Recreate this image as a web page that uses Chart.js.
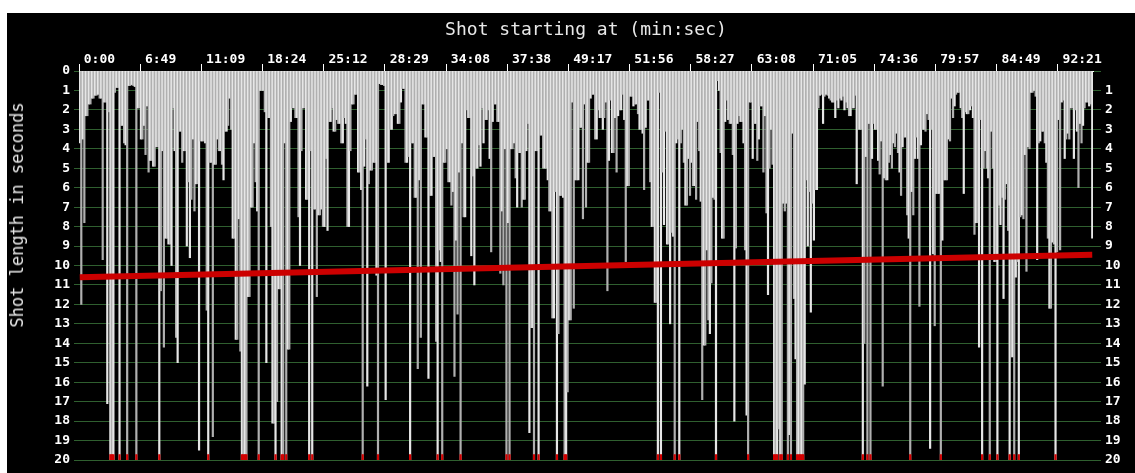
<!DOCTYPE html>
<html>
<head>
<meta charset="utf-8">
<title>Shot length in seconds</title>
<script src="https://cdn.jsdelivr.net/npm/chart.js@4.4.1/dist/chart.umd.min.js"></script>
<style>
  html, body { margin: 0; padding: 0; background: #fff; }
  #wrap { position: relative; width: 1135px; height: 473px; overflow: hidden; }
  #panel { position: absolute; left: 7px; top: 13px; width: 1128px; height: 460px; background: #000; }
  #chart { position: absolute; left: 0; top: 0; }
  #ytitle {
    position: absolute; left: 17px; top: 215px;
    transform: translate(-50%, -50%) rotate(-90deg);
    color: #e8e8e8; font: 17px "DejaVu Sans Mono", monospace; white-space: nowrap;
  }
</style>
</head>
<body>
<div id="wrap">
  <div id="panel"></div>
  <canvas id="chart" width="1135" height="473"></canvas>
  <div id="ytitle">Shot length in seconds</div>
</div>
<script>
/***** data *****/
// one top-axis label every 40 shots (start time of that shot)
var shotsPerTick = 40;
var tickLabels = ["0:00", "6:49", "11:09", "18:24", "25:12", "28:29", "34:08", "37:38", "49:17",
                  "51:56", "58:27", "63:08", "71:05", "74:36", "79:57", "84:49", "92:21"];

// shot lengths in seconds; 21 = runs past the 20 s scale (red mark)
var shotLengths = [
  3.7, 12.0, 3.5, 7.8, 2.3, 2.3, 1.7, 1.7, 1.4, 1.4,
  1.25, 1.25, 1.2, 1.4, 1.4, 9.7, 1.6, 1.6, 17.1, 2.1,
  21, 21, 21, 1.1, 0.85, 0.85, 21, 2.8, 2.8, 3.7,
  3.8, 21, 0.75, 0.75, 0.7, 0.75, 0.8, 21, 1.9, 1.9,
  3.5, 3.5, 2.8, 4.3, 1.8, 5.2, 4.6, 4.6, 4.9, 4.9,
  3.9, 3.9, 21, 11.3, 4.1, 14.2, 8.6, 8.6, 8.9, 8.9,
  10.0, 1.9, 4.1, 13.7, 15.0, 3.1, 3.1, 4.7, 4.1, 4.1,
  9.0, 5.7, 9.6, 6.6, 3.5, 7.2, 5.8, 5.8, 19.5, 3.6,
  3.6, 3.6, 3.7, 12.3, 21, 4.7, 4.7, 18.8, 4.8, 4.8,
  3.5, 4.1, 4.1, 4.8, 5.6, 3.1, 3.1, 2.8, 1.4, 3.0,
  8.6, 8.6, 13.8, 13.8, 7.6, 14.4, 21, 21, 21, 21,
  // 110
  11.6, 11.6, 7.0, 7.0, 3.7, 5.7, 7.2, 21, 1.0, 1.0,
  1.0, 2.1, 15.0, 2.4, 2.4, 8.0, 18.1, 18.1, 21, 17.0,
  11.2, 11.2, 21, 21, 3.7, 21, 14.3, 14.3, 2.6, 1.9,
  1.9, 2.4, 2.4, 7.5, 10.0, 4.1, 1.9, 1.9, 6.6, 6.6,
  21, 4.1, 21, 7.1, 7.1, 11.6, 7.4, 7.4, 7.1, 8.0,
  8.0, 4.5, 8.2, 2.6, 2.6, 1.9, 3.1, 3.1, 2.5, 2.7,
  2.7, 3.7, 3.7, 2.4, 2.7, 8.0, 8.0, 4.1, 1.7, 1.7,
  1.2, 1.2, 5.2, 5.2, 6.1, 21, 4.9, 3.5, 16.2, 5.8,
  5.1, 5.1, 4.7, 4.7, 10.5, 21, 0.65, 0.7, 0.7, 0.75,
  16.9, 4.7, 4.7, 3.0, 3.0, 2.3, 2.2, 2.2, 2.7, 2.7,
  1.6, 0.9, 0.9, 4.7, 4.7, 4.4, 21, 3.7, 3.7, 6.5,
  6.5, 15.3, 5.6,
  // 223
  13.7, 1.7, 1.7, 3.4, 3.4, 15.8, 6.4,
  6.4, 4.4, 4.4, 13.9, 21, 9.2, 9.8, 21, 4.7, 4.7,
  4.0, 5.7, 5.7, 6.9, 6.2, 15.7, 8.7, 12.5, 5.2, 21,
  3.7, 7.5, 7.5, 2.0, 2.4, 2.4, 9.5, 5.4, 11.0, 5.0,
  5.0, 3.8, 4.9, 1.9, 3.7, 2.5, 2.5, 2.0, 4.5, 9.3,
  2.6, 1.7, 1.7, 2.6, 2.6, 10.4, 7.2, 11.0, 4.0, 21,
  7.8, 21, 4.0, 4.0, 3.7, 5.5, 7.0, 4.2, 4.2, 7.0,
  6.6, 6.6, 4.1, 2.7, 18.6, 13.2, 13.2, 21, 4.1, 4.1,
  21, 3.3, 3.3, 5.0, 5.0, 5.0, 5.6, 7.2, 7.2, 12.7,
  12.7, 6.2, 21, 13.5, 6.4, 6.4, 6.5, 21, 21, 16.5,
  12.8, 12.8, 1.6, 12.2, 5.6, 5.6, 5.6, 2.9, 2.9, 7.6,
  1.7, 7.0, 4.7, 4.7, 1.4,
  // 335
  1.2, 1.2, 3.5, 3.5, 2.0,
  2.4, 2.4, 3.0, 2.4, 1.6, 11.3, 4.6, 1.5, 4.2, 4.2,
  2.4, 5.2, 2.3, 2.0, 2.0, 1.2, 2.5, 9.8, 5.9, 5.9,
  1.3, 1.3, 1.8, 1.7, 1.7, 2.2, 3.0, 3.0, 3.2, 6.1,
  2.9, 1.5, 1.5, 5.7, 8.0, 8.0, 11.9, 11.9, 21, 1.1,
  21, 5.2, 7.9, 3.1, 8.9, 8.9, 13.0, 8.3, 8.5, 21,
  3.7, 3.5, 21, 3.7, 3.0, 4.7, 6.9, 6.9, 4.5, 6.4,
  4.7, 5.9, 5.9, 6.6, 2.6, 4.1, 6.7, 16.9, 14.1, 14.1,
  9.2, 12.8, 13.5, 10.9, 6.5, 6.6, 21, 0.5, 1.0, 4.2,
  8.6, 8.6, 2.6, 1.5, 2.5, 2.7, 2.7, 4.3, 18.0, 9.1,
  2.7, 2.3, 2.6, 2.6, 3.7, 9.2, 17.7, 21, 1.6, 1.6,
  4.5, 2.7, 2.7, 4.6, 3.5, 1.8, 1.8, 5.2,
  // 448
  2.3, 7.3,
  11.5, 5.0, 3.0, 4.8, 21, 21, 21, 18.4, 21, 21,
  6.8, 7.2, 6.8, 21, 18.7, 21, 3.2, 11.7, 14.8, 21,
  21, 21, 21, 21, 16.1, 5.6, 9.0, 6.2, 12.4, 6.8,
  8.7, 6.1, 6.1, 1.9, 1.25, 1.2, 2.7, 1.3, 1.2, 1.25,
  1.4, 1.5, 1.6, 1.6, 2.4, 1.5, 1.9, 1.4, 1.5, 1.3,
  2.0, 1.6, 1.9, 2.3, 2.3, 1.9, 1.9, 1.25, 5.8, 3.0,
  3.0, 3.0, 21, 14.0, 4.4, 21, 2.7, 21, 4.5, 2.7,
  3.0, 3.0, 4.6, 5.3, 3.6, 16.2, 5.5, 5.6, 5.6, 4.7,
  4.3, 5.0, 3.7, 3.9, 3.2, 4.2, 5.2, 6.4, 3.9, 3.4,
  3.4, 7.4, 8.6, 21, 6.2, 7.4, 4.5, 3.4, 4.5, 12.1,
  3.8, 3.0, 3.0, 3.1, 2.2, 2.5, 19.4, 3.0, 9.4, 13.1,
  // 560
  6.3, 6.3, 6.3, 21, 8.7, 5.6, 5.6, 5.6, 3.5, 3.6,
  1.4, 2.4, 1.8, 1.2, 1.1, 1.1, 1.9, 2.4, 6.3, 2.1,
  2.2, 2.2, 2.0, 1.8, 2.4, 8.4, 7.8, 7.8, 14.2, 2.5,
  21, 5.0, 4.1, 5.0, 5.5, 21, 3.1, 5.0, 9.8, 9.8,
  21, 6.9, 7.9, 6.5, 11.7, 6.6, 5.8, 8.2, 21, 14.7,
  14.7, 21, 10.6, 9.8, 21, 7.5, 7.4, 7.6, 4.3, 10.3,
  3.9, 4.0, 1.1, 1.1, 1.0, 1.3, 9.7, 3.7, 3.6, 3.1,
  3.1, 3.7, 4.7, 8.6, 12.2, 12.2, 8.8, 8.9, 21, 9.3,
  2.5, 9.2, 1.6, 1.5, 4.5, 3.5, 3.2, 3.5, 1.9, 1.9,
  4.5, 2.0, 3.1, 6.0, 2.7, 3.7, 2.8, 1.9, 1.6, 1.6,
  1.8, 1.7, 8.6
];

// red trend line, value at first and last shot
var trendStart = 10.6;
var trendEnd = 9.45;

var yMax = 20;
/***** !data *****/

var shotNumbers = shotLengths.map(function (v, i) { return i + 1; });
var overflow = shotLengths.map(function (v) { return v >= yMax ? [19.72, yMax] : null; });
var trend = shotLengths.map(function (v, i) {
    if (i === 0) return trendStart;
    if (i === shotLengths.length - 1) return trendEnd;
    return null;
});

var tickFont = { family: '"DejaVu Sans Mono", monospace', size: 13, weight: 'bold' };
var green = '#2f5f2f';

new Chart(document.getElementById('chart'), {
    type: 'bar',
    data: {
        labels: shotNumbers,
        datasets: [{
            type: 'line',
            data: trend,
            spanGaps: true,
            borderColor: '#cc0000',
            borderWidth: 6,
            pointRadius: 0,
            order: 0
        }, {
            data: overflow,
            backgroundColor: '#d20000',
            grouped: false,
            barPercentage: 1,
            categoryPercentage: 1,
            order: 1
        }, {
            data: shotLengths,
            backgroundColor: function (ctx) { return ctx.dataIndex % 2 ? '#b0b0b0' : '#e6e6e6'; },
            borderWidth: 0,
            grouped: false,
            barPercentage: 1,
            categoryPercentage: 1,
            order: 2
        }]
    },
    options: {
        responsive: false,
        animation: false,
        devicePixelRatio: 1,
        layout: { padding: { left: 0, right: 0, top: 0, bottom: 13 } },
        plugins: {
            legend: { display: false },
            tooltip: { enabled: false },
            title: {
                display: true,
                fullSize: false,
                text: 'Shot starting at (min:sec)',
                color: '#e8e8e8',
                font: { family: '"DejaVu Sans Mono", monospace', size: 18, weight: 'normal', lineHeight: 1.2 },
                padding: { top: 20, bottom: 0 }
            }
        },
        scales: {
            x: {
                position: 'top',
                offset: true,
                grid: {
                    offset: true,
                    drawOnChartArea: false,
                    drawTicks: true,
                    tickLength: 7,
                    lineWidth: 1,
                    color: function (ctx) { return ctx.index % shotsPerTick === 0 ? '#ffffff' : 'rgba(0,0,0,0)'; }
                },
                border: { display: true, color: '#ffffff', width: 1 },
                ticks: {
                    autoSkip: false,
                    maxRotation: 0,
                    minRotation: 0,
                    align: 'start',
                    labelOffset: 4,
                    padding: -3,
                    color: '#ffffff',
                    font: tickFont,
                    callback: function (val, i) {
                        return i % shotsPerTick === 0 ? tickLabels[i / shotsPerTick] : '';
                    }
                },
                afterFit: function (s) { s.height = 29.4; }
            },
            y: {
                position: 'left',
                reverse: true,
                min: 0,
                max: yMax,
                ticks: { stepSize: 1, padding: 4, color: '#ffffff', font: tickFont },
                grid: { color: green, lineWidth: 1, tickLength: 5 },
                border: { display: false },
                afterFit: function (s) { s.width = 79; }
            },
            y2: {
                position: 'right',
                reverse: true,
                min: 0,
                max: yMax,
                ticks: {
                    stepSize: 1, padding: 4, color: '#ffffff', font: tickFont,
                    callback: function (v) { return v === 0 ? '' : v; }
                },
                grid: { drawOnChartArea: false, color: green, lineWidth: 1, tickLength: 8 },
                border: { display: false },
                afterFit: function (s) { s.width = 42; }
            }
        }
    }
});
</script>
</body>
</html>
